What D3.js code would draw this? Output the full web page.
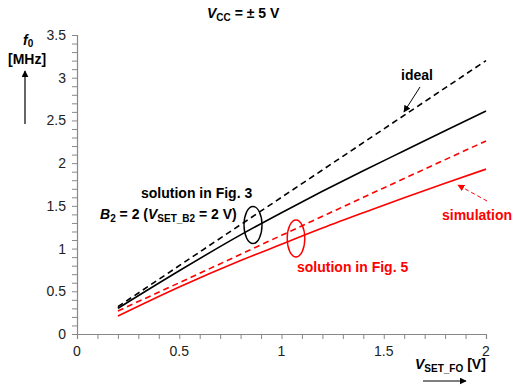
<!DOCTYPE html>
<html>
<head>
<meta charset="utf-8">
<script src="https://cdn.jsdelivr.net/npm/d3@7"></script>
<style>
  body { margin: 0; background: #fff; }
  svg { font-family: "Liberation Sans", Arial, sans-serif; }
  .lbl { font-weight: bold; font-size: 14px; }
</style>
</head>
<body>
<div id="chart"></div>
<script>
// 讀圖得到的資料 (x = V_SET_FO [V], y = f0 [MHz])
const xTicks = [0, 0.5, 1, 1.5, 2];
const yTicks = [0, 0.5, 1, 1.5, 2, 2.5, 3, 3.5];
const idealX = [0.2, 2.0];
const idealY = [0.32, 3.2];
const fig3X = [0.2, 0.5, 0.8, 1.0, 1.2, 1.4, 1.6, 1.8, 2.0];
const fig3Y = [0.30, 0.74, 1.16, 1.42, 1.67, 1.91, 2.145, 2.38, 2.61];
const simX = [0.2, 0.5, 1.0, 1.5, 2.0];
const simY = [0.27, 0.60, 1.155, 1.71, 2.26];
const fig5X = [0.2, 0.5, 0.8, 1.0, 1.2, 1.4, 1.6, 1.8, 2.0];
const fig5Y = [0.21, 0.55, 0.86, 1.05, 1.24, 1.42, 1.595, 1.765, 1.93];

const W = 514, H = 385;
const svg = d3.select("#chart").append("svg")
    .attr("width", W).attr("height", H);

const defs = svg.append("defs");
function marker(id, color) {
    defs.append("marker")
        .attr("id", id)
        .attr("viewBox", "0 0 10 10")
        .attr("refX", 9).attr("refY", 5)
        .attr("markerWidth", 7).attr("markerHeight", 7)
        .attr("markerUnits", "userSpaceOnUse")
        .attr("orient", "auto")
        .append("path")
        .attr("d", "M0,0 L10,5 L0,10 z")
        .attr("fill", color);
}
marker("arrK", "#000");
marker("arrR", "#f00");

const x = d3.scaleLinear().domain([0, 2]).range([77, 486]);
const y = d3.scaleLinear().domain([0, 3.5]).range([334, 35]);

// 軸 (minor ticks 每 0.1)
const axisColor = "#888";
const xAxis = svg.append("g").attr("transform", `translate(0,${y(0)})`)
    .call(d3.axisBottom(x).tickValues(d3.range(0, 2.001, 0.1)).tickSize(5).tickFormat(""));
const yAxis = svg.append("g").attr("transform", `translate(${x(0)},0)`)
    .call(d3.axisLeft(y).tickValues(d3.range(0, 3.501, 0.1)).tickSize(5).tickFormat(""));
[xAxis, yAxis].forEach(g => {
    g.select(".domain").attr("stroke", axisColor).attr("stroke-width", 1.2);
    g.selectAll(".tick line").attr("stroke", axisColor);
});

svg.append("g").selectAll("text").data(xTicks).join("text")
    .attr("x", d => x(d)).attr("y", 356)
    .attr("text-anchor", "middle")
    .attr("font-size", 14).attr("fill", "#222")
    .text(d => d3.format("~g")(d));
svg.append("g").selectAll("text").data(yTicks).join("text")
    .attr("x", 66).attr("y", d => y(d) + 5)
    .attr("text-anchor", "end")
    .attr("font-size", 14).attr("fill", "#222")
    .text(d => d3.format("~g")(d));

// 曲線
const line = d3.line().curve(d3.curveMonotoneX).x(d => x(d[0])).y(d => y(d[1]));
const series = [
    {xs: idealX, ys: idealY, color: "#000", dash: "6,4"},
    {xs: fig3X, ys: fig3Y, color: "#000", dash: null},
    {xs: simX, ys: simY, color: "#f00", dash: "6,4"},
    {xs: fig5X, ys: fig5Y, color: "#f00", dash: null}
];
series.forEach(s => {
    svg.append("path")
        .datum(d3.zip(s.xs, s.ys))
        .attr("d", line)
        .attr("fill", "none")
        .attr("stroke", s.color)
        .attr("stroke-width", 1.6)
        .attr("stroke-dasharray", s.dash);
});

// 標題 V_CC = ± 5 V
const title = svg.append("text").attr("class", "lbl").attr("x", 207).attr("y", 18);
title.append("tspan").attr("font-style", "italic").text("V");
title.append("tspan").attr("font-size", 10).attr("dy", 3).text("CC");
title.append("tspan").attr("dy", -3).text(" = ± 5 V");

// y 軸標籤
const fl = svg.append("text").attr("class", "lbl").attr("x", 23).attr("y", 45);
fl.append("tspan").attr("font-style", "italic").text("f");
fl.append("tspan").attr("font-size", 10).attr("dy", 2).text("0");
svg.append("text").attr("class", "lbl").attr("x", 8).attr("y", 64).text("[MHz]");
svg.append("line").attr("x1", 25).attr("y1", 124).attr("x2", 25).attr("y2", 71)
    .attr("stroke", "#000").attr("stroke-width", 1.2).attr("marker-end", "url(#arrK)");

// x 軸標籤
const xl = svg.append("text").attr("class", "lbl").attr("x", 415).attr("y", 369);
xl.append("tspan").attr("font-style", "italic").text("V");
xl.append("tspan").attr("font-size", 10).attr("dy", 3).text("SET_FO");
xl.append("tspan").attr("dy", -3).text(" [V]");
svg.append("line").attr("x1", 423).attr("y1", 381).attr("x2", 466).attr("y2", 381)
    .attr("stroke", "#000").attr("stroke-width", 1.2).attr("marker-end", "url(#arrK)");

// 註解
svg.append("text").attr("class", "lbl").attr("x", 401).attr("y", 80).text("ideal");
svg.append("line").attr("x1", 420).attr("y1", 87).attr("x2", 404).attr("y2", 112)
    .attr("stroke", "#000").attr("stroke-width", 1).attr("marker-end", "url(#arrK)");

svg.append("text").attr("class", "lbl").attr("x", 141).attr("y", 198).text("solution in Fig. 3");
const b2 = svg.append("text").attr("class", "lbl").attr("x", 100).attr("y", 219);
b2.append("tspan").attr("font-style", "italic").text("B");
b2.append("tspan").attr("font-size", 10).attr("dy", 3).text("2");
b2.append("tspan").attr("dy", -3).text(" = 2 (");
b2.append("tspan").attr("font-style", "italic").text("V");
b2.append("tspan").attr("font-size", 10).attr("dy", 3).text("SET_B2");
b2.append("tspan").attr("dy", -3).text(" = 2 V)");
svg.append("ellipse").attr("cx", 253).attr("cy", 225).attr("rx", 9).attr("ry", 18.5)
    .attr("fill", "none").attr("stroke", "#000").attr("stroke-width", 1.4);

svg.append("ellipse").attr("cx", 296).attr("cy", 238.5).attr("rx", 8.8).attr("ry", 18.5)
    .attr("fill", "none").attr("stroke", "#f00").attr("stroke-width", 1.4);
svg.append("text").attr("class", "lbl").attr("x", 297).attr("y", 272)
    .attr("fill", "#f00").text("solution in Fig. 5");

svg.append("text").attr("class", "lbl").attr("x", 442).attr("y", 220)
    .attr("fill", "#f00").text("simulation");
svg.append("line").attr("x1", 487).attr("y1", 201).attr("x2", 458).attr("y2", 185)
    .attr("stroke", "#f00").attr("stroke-width", 1).attr("stroke-dasharray", "4,3")
    .attr("marker-end", "url(#arrR)");
</script>
</body>
</html>
